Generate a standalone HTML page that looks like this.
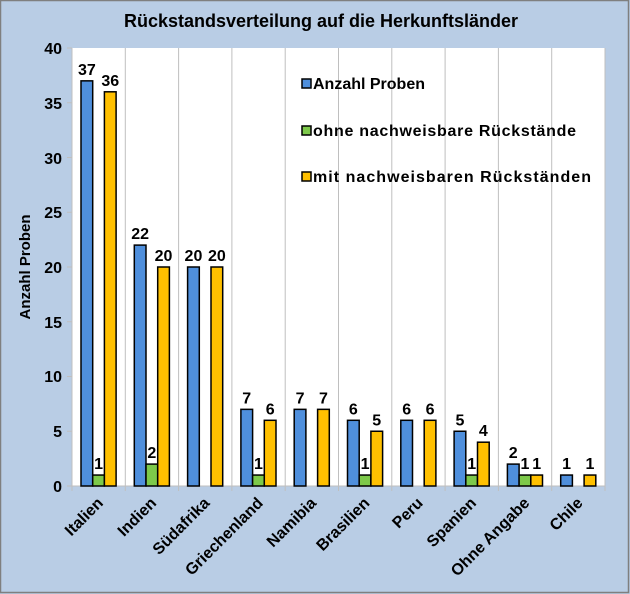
<!DOCTYPE html>
<html><head><meta charset="utf-8"><style>
html,body{margin:0;padding:0;background:#b9cde5}
svg{display:block}
text{font-family:"Liberation Sans",Arial,sans-serif;font-weight:bold;fill:#000}
</style></head><body>
<svg width="630" height="594" viewBox="0 0 630 594">
<rect x="0.5" y="0.5" width="628" height="592" fill="#b9cde5" stroke="#7f7f7f" stroke-width="1.5"/>
<text x="321" y="27" font-size="18" text-anchor="middle">Rückstandsverteilung auf die Herkunftsländer</text>
<rect x="72" y="48" width="533" height="438" fill="#fff"/>
<g stroke="#bfbfbf" stroke-width="1">
<line x1="125.3" y1="48" x2="125.3" y2="491"/><line x1="178.6" y1="48" x2="178.6" y2="491"/>
<line x1="231.9" y1="48" x2="231.9" y2="491"/><line x1="285.2" y1="48" x2="285.2" y2="491"/>
<line x1="338.5" y1="48" x2="338.5" y2="491"/><line x1="391.8" y1="48" x2="391.8" y2="491"/>
<line x1="445.1" y1="48" x2="445.1" y2="491"/><line x1="498.4" y1="48" x2="498.4" y2="491"/>
<line x1="551.7" y1="48" x2="551.7" y2="491"/><line x1="605" y1="48" x2="605" y2="491"/>
<line x1="72" y1="486" x2="605" y2="486"/><line x1="72" y1="48" x2="72" y2="486"/>
<line x1="67" y1="48" x2="72" y2="48"/><line x1="67" y1="102.75" x2="72" y2="102.75"/>
<line x1="67" y1="157.5" x2="72" y2="157.5"/><line x1="67" y1="212.25" x2="72" y2="212.25"/>
<line x1="67" y1="267" x2="72" y2="267"/><line x1="67" y1="321.75" x2="72" y2="321.75"/>
<line x1="67" y1="376.5" x2="72" y2="376.5"/><line x1="67" y1="431.25" x2="72" y2="431.25"/>
<line x1="67" y1="486" x2="72" y2="486"/><line x1="72" y1="486" x2="72" y2="491"/>
</g>
<g font-size="16" text-anchor="end">
<text x="62" y="54">40</text><text x="62" y="109">35</text><text x="62" y="164">30</text>
<text x="62" y="218">25</text><text x="62" y="273">20</text><text x="62" y="328">15</text>
<text x="62" y="382">10</text><text x="62" y="437">5</text><text x="62" y="492">0</text>
</g>
<text transform="translate(30,267) rotate(-90)" font-size="15" text-anchor="middle">Anzahl Proben</text>
<g stroke="#000" stroke-width="1.5" id="bars"></g>
<g font-size="16" text-anchor="middle" id="labels"></g>
<g font-size="16" text-anchor="end" id="cats"></g>
<g stroke="#000" stroke-width="1.5">
<rect x="302" y="79" width="9" height="9" fill="#4f8fdc"/>
<rect x="302" y="126" width="9" height="9" fill="#7dc94a"/>
<rect x="302" y="172" width="9" height="9" fill="#ffc000"/>
</g>
<g font-size="16">
<text x="313" y="89" textLength="112" lengthAdjust="spacing">Anzahl Proben</text>
<text x="313" y="136" textLength="263" lengthAdjust="spacing">ohne nachweisbare Rückstände</text>
<text x="313" y="182" textLength="278" lengthAdjust="spacing">mit nachweisbaren Rückständen</text>
</g>
<script>
var d=[["Italien",37,1,36],["Indien",22,2,20],["Südafrika",20,0,20],["Griechenland",7,1,6],["Namibia",7,0,7],["Brasilien",6,1,5],["Peru",6,0,6],["Spanien",5,1,4],["Ohne Angabe",2,1,1],["Chile",1,0,1]];
var cols=["#4f8fdc","#7dc94a","#ffc000"],ns="http://www.w3.org/2000/svg";
var B=document.getElementById("bars"),L=document.getElementById("labels"),C=document.getElementById("cats");
function el(t,a,p){var e=document.createElementNS(ns,t);for(var k in a)e.setAttribute(k,a[k]);p.appendChild(e);return e;}
d.forEach(function(r,i){var x0=72+i*53.3;
for(var j=0;j<3;j++){var v=r[j+1];if(!v)continue;var x=x0+9+j*11.7,h=v*10.95;
el("rect",{x:x,y:486-h,width:11.7,height:h,fill:cols[j]},B);
var t=el("text",{x:x+5.85,y:486-h-6},L);t.textContent=v;}
var c=x0+32;var t=el("text",{transform:"translate("+c+",504) rotate(-45)"},C);t.textContent=r[0];});
</script>
</svg>
</body></html>
